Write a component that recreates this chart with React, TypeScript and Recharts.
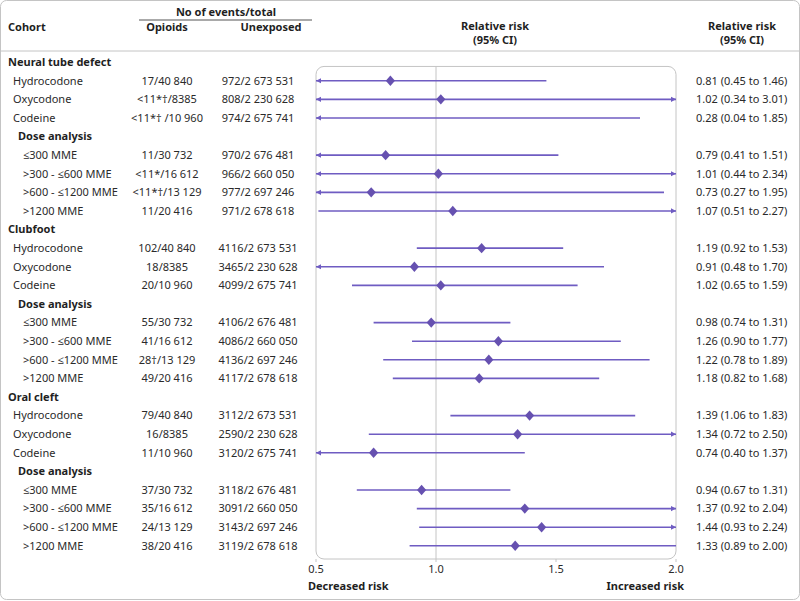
import React from 'react';
import { ScatterChart, Scatter, XAxis, YAxis, ReferenceArea, ReferenceLine } from 'recharts';

// ---------- data ----------
const rowLabels = [
  'Neural tube defect', 'Hydrocodone', 'Oxycodone', 'Codeine', 'Dose analysis',
  '≤300 MME', '>300 - ≤600 MME', '>600 - ≤1200 MME', '>1200 MME',
  'Clubfoot', 'Hydrocodone', 'Oxycodone', 'Codeine', 'Dose analysis',
  '≤300 MME', '>300 - ≤600 MME', '>600 - ≤1200 MME', '>1200 MME',
  'Oral cleft', 'Hydrocodone', 'Oxycodone', 'Codeine', 'Dose analysis',
  '≤300 MME', '>300 - ≤600 MME', '>600 - ≤1200 MME', '>1200 MME',
];
const rowKinds = [
  'group', 'drug', 'drug', 'drug', 'sub', 'dose', 'dose', 'dose', 'dose',
  'group', 'drug', 'drug', 'drug', 'sub', 'dose', 'dose', 'dose', 'dose',
  'group', 'drug', 'drug', 'drug', 'sub', 'dose', 'dose', 'dose', 'dose',
];
const opioidEvents = [
  '', '17/40 840', '<11*†/8385', '<11*† /10 960', '',
  '11/30 732', '<11*/16 612', '<11*†/13 129', '11/20 416',
  '', '102/40 840', '18/8385', '20/10 960', '',
  '55/30 732', '41/16 612', '28†/13 129', '49/20 416',
  '', '79/40 840', '16/8385', '11/10 960', '',
  '37/30 732', '35/16 612', '24/13 129', '38/20 416',
];
const unexposedEvents = [
  '', '972/2 673 531', '808/2 230 628', '974/2 675 741', '',
  '970/2 676 481', '966/2 660 050', '977/2 697 246', '971/2 678 618',
  '', '4116/2 673 531', '3465/2 230 628', '4099/2 675 741', '',
  '4106/2 676 481', '4086/2 660 050', '4136/2 697 246', '4117/2 678 618',
  '', '3112/2 673 531', '2590/2 230 628', '3120/2 675 741', '',
  '3118/2 676 481', '3091/2 660 050', '3143/2 697 246', '3119/2 678 618',
];
const relRisk = [
  null, 0.81, 1.02, 0.28, null, 0.79, 1.01, 0.73, 1.07,
  null, 1.19, 0.91, 1.02, null, 0.98, 1.26, 1.22, 1.18,
  null, 1.39, 1.34, 0.74, null, 0.94, 1.37, 1.44, 1.33,
];
const ciLower = [
  null, 0.45, 0.34, 0.04, null, 0.41, 0.44, 0.27, 0.51,
  null, 0.92, 0.48, 0.65, null, 0.74, 0.90, 0.78, 0.82,
  null, 1.06, 0.72, 0.40, null, 0.67, 0.92, 0.93, 0.89,
];
const ciUpper = [
  null, 1.46, 3.01, 1.85, null, 1.51, 2.34, 1.95, 2.27,
  null, 1.53, 1.70, 1.59, null, 1.31, 1.77, 1.89, 1.68,
  null, 1.83, 2.50, 1.37, null, 1.31, 2.04, 2.24, 2.00,
];
const xTicks = [0.5, 1.0, 1.5, 2.0];

// ---------- derived ----------
const X_MIN = 0.5;
const X_MAX = 2.0;
const rowIndex = rowLabels.map((_, i) => i);
const diamondData = rowIndex
  .filter((i) => relRisk[i] != null && (relRisk[i] as number) >= X_MIN && (relRisk[i] as number) <= X_MAX)
  .map((i) => ({ x: relRisk[i], y: i }));
const ciSeries = rowIndex
  .filter((i) => relRisk[i] != null)
  .map((i) => [
    { x: Math.max(ciLower[i] as number, X_MIN), y: i, arrow: (ciLower[i] as number) < X_MIN ? 'left' : null },
    { x: Math.min(ciUpper[i] as number, X_MAX), y: i, arrow: (ciUpper[i] as number) > X_MAX ? 'right' : null },
  ]);
const rrText = (i: number) =>
  relRisk[i] == null
    ? ''
    : `${(relRisk[i] as number).toFixed(2)} (${(ciLower[i] as number).toFixed(2)} to ${(ciUpper[i] as number).toFixed(2)})`;

// ---------- style ----------
const FONT = '"Noto Sans", "Open Sans", sans-serif';
const TXT = '#2a2a2a';
const LINE = '#6f5cc2';
const DIAMOND = '#6651b0';
const GRAY = '#c4c4c4';
const FS = 11;

const indentFor: Record<string, number> = { group: 8, drug: 13, sub: 18, dose: 23 };

const RowTick = (props: any) => {
  const { y, payload } = props;
  const i = payload.value as number;
  const kind = rowKinds[i];
  const bold = kind === 'group' || kind === 'sub';
  return (
    <g fontFamily={FONT} fontSize={FS} fill={TXT}>
      <text x={indentFor[kind]} y={y} dy="0.35em" fontWeight={bold ? 700 : 400} fill={bold ? '#1f1f1f' : TXT}>
        {rowLabels[i]}
      </text>
      {opioidEvents[i] && (
        <text x={167} y={y} dy="0.35em" textAnchor="middle">
          {opioidEvents[i]}
        </text>
      )}
      {unexposedEvents[i] && (
        <text x={258} y={y} dy="0.35em" textAnchor="middle">
          {unexposedEvents[i]}
        </text>
      )}
      {relRisk[i] != null && (
        <text x={696} y={y} dy="0.35em" textAnchor="start">
          {rrText(i)}
        </text>
      )}
    </g>
  );
};

const XTick = (props: any) => {
  const { x, y, payload } = props;
  return (
    <text x={x} y={y} dy={9} textAnchor="middle" fontFamily={FONT} fontSize={FS} fill={TXT}>
      {Number(payload.value).toFixed(1)}
    </text>
  );
};

const ArrowEnd = (props: any) => {
  const { cx, cy, payload } = props;
  if (!payload || !payload.arrow) return <g />;
  if (payload.arrow === 'left') {
    return <polygon points={`${cx},${cy} ${cx + 5},${cy - 2.6} ${cx + 5},${cy + 2.6}`} fill={LINE} />;
  }
  return <polygon points={`${cx},${cy} ${cx - 5},${cy - 2.6} ${cx - 5},${cy + 2.6}`} fill={LINE} />;
};

const Diamond = (props: any) => {
  const { cx, cy } = props;
  const w = 4.6;
  const h = 5.2;
  return <polygon points={`${cx},${cy - h} ${cx + w},${cy} ${cx},${cy + h} ${cx - w},${cy}`} fill={DIAMOND} />;
};

export default function App() {
  return (
    <div style={{ position: 'absolute', left: 0, top: 0, width: 800, height: 601, background: '#fff' }}>
      <ScatterChart width={800} height={601} margin={{ top: 51, right: 124, bottom: 22, left: 315 }}>
        <rect x={0.5} y={0.5} width={799} height={599} rx={6} fill="none" stroke={GRAY} />
        <line x1={0} x2={800} y1={51} y2={51} stroke={GRAY} />
        <line x1={139} x2={312} y1={20} y2={20} stroke="#555" />
        <g fontFamily={FONT} fontSize={FS} fill="#1f1f1f" fontWeight={700}>
          <text x={8} y={31}>Cohort</text>
          <text x={226} y={16} textAnchor="middle">No of events/total</text>
          <text x={167} y={31} textAnchor="middle">Opioids</text>
          <text x={271} y={31} textAnchor="middle">Unexposed</text>
          <text x={495} y={30} textAnchor="middle">Relative risk</text>
          <text x={495} y={44} textAnchor="middle">(95% CI)</text>
          <text x={742} y={30} textAnchor="middle">Relative risk</text>
          <text x={742} y={44} textAnchor="middle">(95% CI)</text>
          <text x={308} y={590}>Decreased risk</text>
          <text x={684} y={590} textAnchor="end">Increased risk</text>
        </g>
        <XAxis
          type="number"
          dataKey="x"
          domain={[X_MIN, X_MAX]}
          ticks={xTicks}
          allowDataOverflow
          axisLine={false}
          tickLine={{ stroke: GRAY }}
          tickSize={3}
          tickMargin={2}
          height={20}
          tick={<XTick />}
        />
        <YAxis
          type="number"
          dataKey="y"
          domain={[-0.6, 26.71]}
          reversed
          allowDataOverflow
          ticks={rowIndex}
          interval={0}
          axisLine={false}
          tickLine={false}
          width={1}
          tick={(p: any) => <RowTick {...p} />}
        />
        <ReferenceArea x1={X_MIN} x2={X_MAX} y1={0.23} y2={26.71} fill="#fff" fillOpacity={1} stroke={GRAY} strokeWidth={1} radius={8} />
        <ReferenceLine segment={[{ x: 1, y: 0.23 }, { x: 1, y: 26.71 }]} stroke={GRAY} strokeWidth={1} />
        {ciSeries.map((pts, k) => (
          <Scatter
            key={k}
            data={pts}
            fill={LINE}
            line={{ stroke: LINE, strokeWidth: 1.6 }}
            shape={<ArrowEnd />}
            isAnimationActive={false}
          />
        ))}
        <Scatter data={diamondData} fill={DIAMOND} shape={<Diamond />} isAnimationActive={false} />
      </ScatterChart>
    </div>
  );
}
